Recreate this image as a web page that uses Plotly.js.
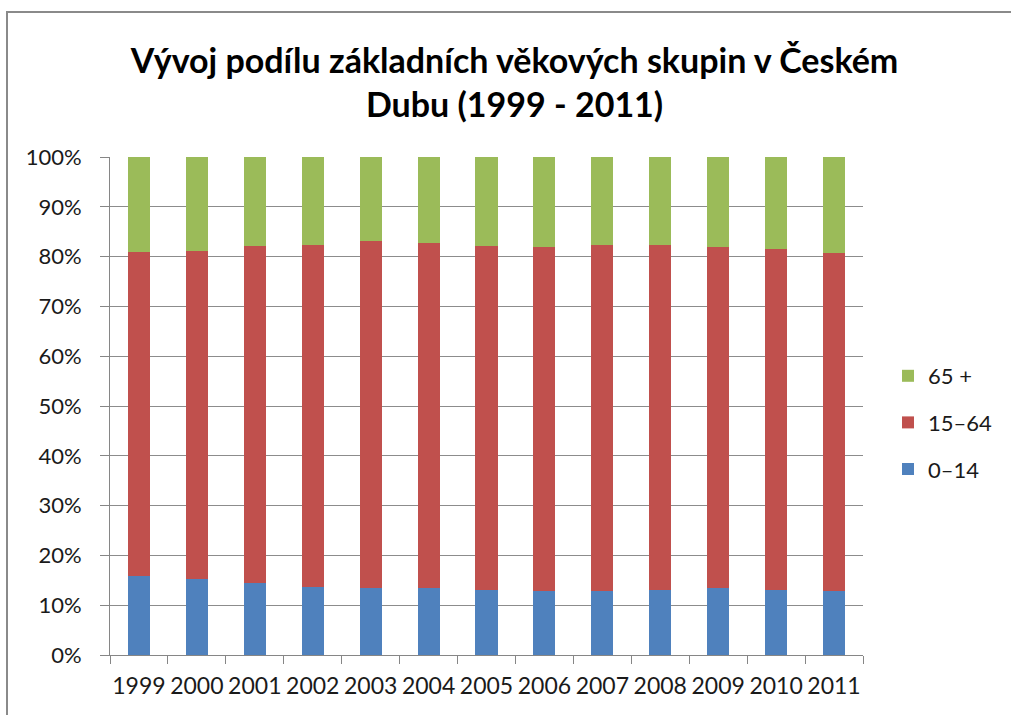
<!DOCTYPE html>
<html>
<head>
<meta charset="utf-8">
<script src="https://cdn.plot.ly/plotly-3.0.1.min.js"></script>
<style>html,body{margin:0;padding:0;background:#fff;}</style>
</head>
<body>
<div id="chart" style="width:1011px;height:715px;"></div>
<script>
const years = ['1999','2000','2001','2002','2003','2004','2005','2006','2007','2008','2009','2010','2011'];
const age0_14 = [15.9,15.2,14.4,13.7,13.4,13.4,13.1,12.8,12.8,13.1,13.4,13.1,12.8];
const age15_64 = [65.0,66.0,67.8,68.7,69.7,69.3,69.1,69.1,69.6,69.3,68.5,68.4,67.9];
const age65plus = [19.1,18.8,17.8,17.6,16.9,17.3,17.8,18.1,17.6,17.6,18.1,18.5,19.3];
const seriesNames = ['0–14','15–64','65 +'];

const pct = a => a.map(v => v / 100);
const colors = ['#4F81BD','#C0504D','#9BBB59'];
const series = [age0_14, age15_64, age65plus];

const data = series.map((s, i) => ({
  type: 'bar',
  x: years,
  y: pct(s),
  name: seriesNames[i],
  legendgroup: 'g' + i,
  legendrank: 3 - i,
  marker: {color: colors[i], line: {width: 0}},
  hoverinfo: 'x+y+name'
}));

const L = 110, R = 148, T = 157, B = 60, W = 1011, H = 715;
const pw = W - L - R, ph = H - T - B;
const px = v => (v - L) / pw;
const py = v => (H - B - v) / ph;

const layout = {
  width: W, height: H,
  margin: {l: L, r: R, t: T, b: B},
  paper_bgcolor: '#ffffff',
  plot_bgcolor: '#ffffff',
  font: {family: 'Lato, "Open Sans", sans-serif', color: '#1a1a1a', size: 21},
  barmode: 'stack',
  bargap: 0.62,
  title: {
    text: 'Vývoj podílu základních věkových skupin v Českém<br>Dubu (1999 - 2011)',
    font: {family: 'Lato, "Open Sans", sans-serif', size: 34, color: '#000000', weight: 'bold'},
    x: 0.509, xanchor: 'center', xref: 'container',
    y: 1 - 73 / H, yanchor: 'top'
  },
  xaxis: {
    type: 'category',
    tickson: 'boundaries',
    tickangle: 0,
    ticks: 'outside', ticklen: 8, tickcolor: '#868686', tickwidth: 1,
    ticklabelstandoff: 10,
    showline: true, linecolor: '#868686', linewidth: 1,
    showgrid: false,
    tickfont: {size: 23, color: '#1a1a1a'},
    fixedrange: true
  },
  yaxis: {
    range: [0, 1],
    dtick: 0.1, tick0: 0,
    tickformat: '.0%',
    ticks: 'outside', ticklen: 9, tickcolor: '#868686',
    ticklabelstandoff: 14,
    showline: true, linecolor: '#868686', linewidth: 1,
    showgrid: true, gridcolor: '#8c8c8c', gridwidth: 1,
    zeroline: false,
    tickfont: {size: 22, color: '#1a1a1a'},
    fixedrange: true
  },
  legend: {
    traceorder: 'grouped',
    tracegroupgap: 15,
    x: px(888), xanchor: 'left',
    y: py(355), yanchor: 'top',
    font: {size: 22, color: '#1a1a1a'},
    bgcolor: 'rgba(0,0,0,0)'
  },
  shapes: [{
    type: 'path', xref: 'paper', yref: 'paper',
    path: `M ${px(7)},${py(730)} L ${px(7)},${py(12)} L ${px(1030)},${py(12)}`,
    line: {color: '#8a8a8a', width: 2}
  }],
  showlegend: true
};

Plotly.newPlot('chart', data, layout, {displayModeBar: false, staticPlot: true});
</script>
</body>
</html>
